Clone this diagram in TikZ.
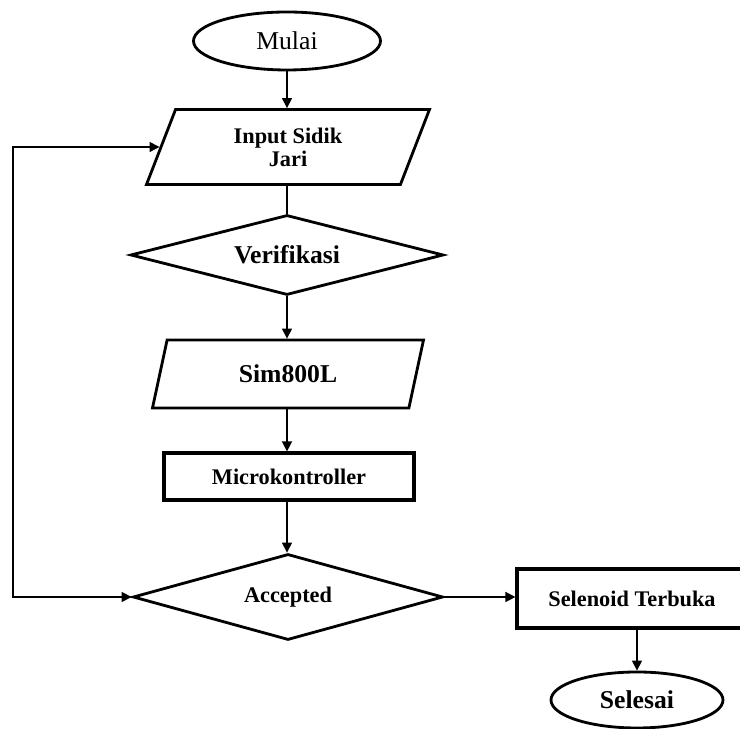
\documentclass[tikz,border=0pt]{standalone}
\usepackage{fontspec}
\setmainfont{Liberation Serif}
\usetikzlibrary{shapes.geometric, arrows.meta}

\begin{document}
\begin{tikzpicture}[
  every node/.style={font=\fontsize{12.7}{13}\selectfont\bfseries, align=center},
  bigtext/.style={font=\fontsize{14.6}{17}\selectfont\bfseries},
  terminal/.style={draw, ellipse, line width=1.6pt, inner sep=0pt},
  iobox/.style={draw, trapezium, trapezium stretches body, line width=1.6pt, inner sep=0pt},
  decision/.style={draw, diamond, line width=1.6pt, inner sep=0pt},
  process/.style={draw, rectangle, line width=1.8pt, inner sep=0pt},
  flow/.style={line width=0.8pt, -{Triangle[length=2mm, width=2mm]}},
  plain/.style={line width=0.8pt}
]
\useasboundingbox (0,0) rectangle (14.8,14.58);

% ----------------------------------------------------
% 1. Main column
% ----------------------------------------------------
\node[terminal, minimum width=3.74cm, minimum height=1.16cm,
      font=\fontsize{14.6}{17}\selectfont] (mulai) at (5.74,13.76) {Mulai};

\node[iobox, trapezium left angle=53, trapezium right angle=127,
      minimum width=5.66cm, minimum height=1.5cm] (input) at (5.76,11.64) {Input Sidik\\Jari};

\node[decision, bigtext, shape aspect=3.91, minimum width=6.26cm, minimum height=1.6cm] (verif) at (5.74,9.48) {Verifikasi};

\node[iobox, bigtext, trapezium left angle=51, trapezium right angle=129,
      minimum width=5.42cm, minimum height=1.36cm] (sim) at (5.76,7.1) {Sim800L};

\node[process, minimum width=5.0cm, minimum height=0.94cm] (micro) at (5.78,5.05) {Microkontroller};

\node[decision, shape aspect=3.6, minimum width=6.2cm, minimum height=1.72cm] (accept) at (5.76,2.64) {Accepted};

% ----------------------------------------------------
% 2. Right branch
% ----------------------------------------------------
\node[process, minimum width=4.6cm, minimum height=1.18cm] (selenoid) at (12.64,2.61) {Selenoid Terbuka};

\node[terminal, bigtext, minimum width=3.44cm, minimum height=1.12cm] (selesai) at (12.74,0.58) {Selesai};

% ----------------------------------------------------
% 3. Connectors
% ----------------------------------------------------
\draw[flow] (mulai.south) -- (mulai.south |- input.north);
\draw[plain] (input.south -| mulai.south) -- (verif.north);
\draw[flow] (verif.south) -- (verif.south |- sim.north);
\draw[flow] (sim.south -| verif.south) -- (verif.south |- micro.north);
\draw[flow] (micro.south -| verif.south) -- (verif.south |- accept.north);
\draw[flow] (accept.east) -- (accept.east -| selenoid.west);
\draw[flow] (selesai.north |- selenoid.south) -- (selesai.north);

% loop back to the fingerprint input
\coordinate (loop) at (0.26,0);
\draw[plain, {Triangle[length=2mm, width=2mm]}-{Triangle[length=2mm, width=2mm]}]
  (accept.west) -| (loop |- input.west) -- (input.west);

\end{tikzpicture}
\end{document}
